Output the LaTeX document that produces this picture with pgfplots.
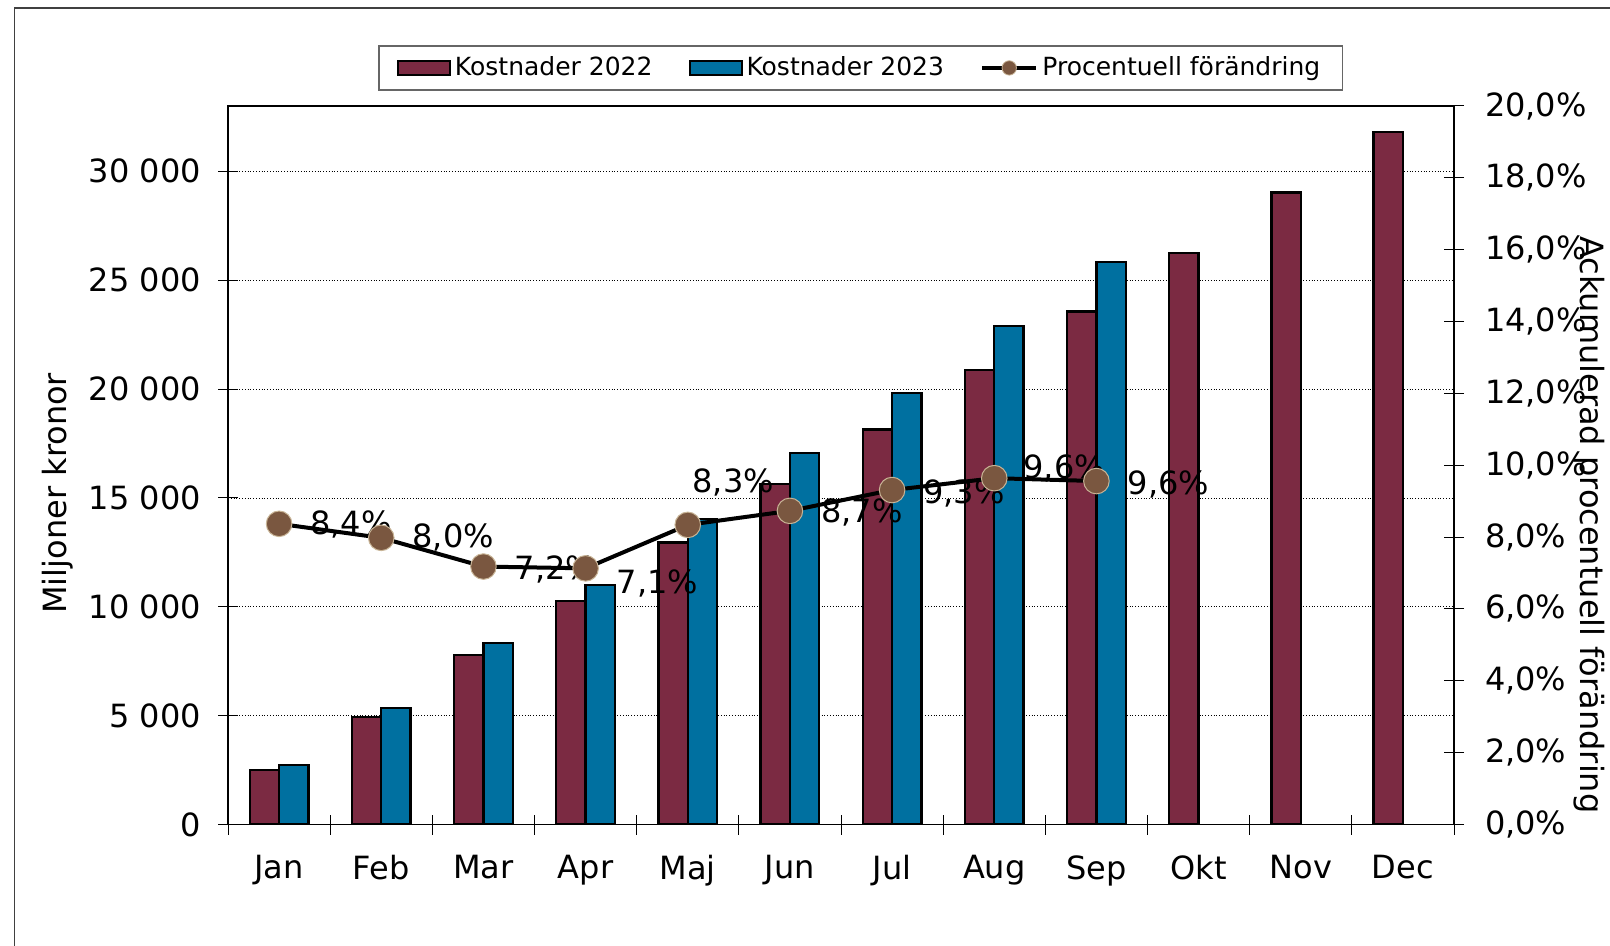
\documentclass[border=0pt]{standalone}
\usepackage{pgfplots}
\usepackage{pgfplotstable}
\pgfplotsset{compat=1.18}
\usepackage{fontspec}
\setmainfont{DejaVu Sans}
\definecolor{maroon}{HTML}{7B2A42}
\definecolor{tealblue}{HTML}{0070A0}
\definecolor{brownmark}{HTML}{7A5740}
\definecolor{tanedge}{HTML}{C8B496}

\pgfplotstableread{
x k22
0 2505
1 4926
2 7776
3 10271
4 12950
5 15650
6 18140
7 20887
8 23566
9 26250
10 29035
11 31810
}\barsA

\pgfplotstableread{
x k23
0 2720
1 5340
2 8327
3 11006
4 14030
5 17059
6 19816
7 22909
8 25836
}\barsB

\pgfplotstableread{
x p dx dy
0 8.37 36 -0.5
1 7.98 36 0
2 7.18 36 -1.7
3 7.13 36 -7.5
4 8.34 22.7 21.2
5 8.73 36 -0.8
6 9.31 36 -1.5
7 9.64 35 5
8 9.56 36 -1.7
}\pct

\begin{document}
\begin{tikzpicture}
\useasboundingbox (0pt,0pt) rectangle (805pt,-473pt);
\draw[black!75, line width=0.8pt] (7.2pt,-480pt) -- (7.2pt,-4.1pt) -- (810pt,-4.1pt);

\begin{axis}[
  at={(114pt,-412.25pt)}, anchor=south west,
  scale only axis, width=613pt, height=359.25pt,
  xmin=-0.5, xmax=11.5, ymin=0, ymax=33000,
  ybar=0pt, bar width=0.287,
  xtick={-0.5,0.5,...,11.5},
  xticklabels={Jan,Feb,Mar,Apr,Maj,Jun,Jul,Aug,Sep,Okt,Nov,Dec},
  x tick label as interval,
  ytick={0,5000,...,30000},
  scaled y ticks=false,
  ytick pos=left, xtick pos=bottom,
  tick align=center, major tick length=10pt,
  tick style={black, line width=0.5pt},
  ymajorgrids, grid style={densely dotted, black, line width=0.4pt},
  axis line style={black, line width=0.6pt},
  tick label style={font=\fontsize{16}{19}\selectfont},
  xticklabel style={yshift=-7pt},
  yticklabel style={xshift=-5pt},
  /pgf/number format/assume math mode=true,
  /pgf/number format/1000 sep={\ },
  ylabel={Miljoner kronor},
  every axis y label/.style={at={(axis description cs:-0.139,0.461)}, anchor=center, rotate=90, font=\fontsize{16}{19}\selectfont},
  legend style={at={(0.516,1.053)}, anchor=center, legend columns=3, draw=black!60, line width=0.6pt,
    font=\fontsize{12.5}{14}\selectfont,
    /tikz/every even column/.append style={column sep=16pt},
    inner xsep=9pt, inner ysep=3.5pt},
  legend cell align=left,
]
\addplot[fill=maroon, draw=black, line width=1.2pt,
  legend image code/.code={\draw[fill=maroon, draw=black, line width=1pt] (0pt,-3.5pt) rectangle (26pt,3.5pt);}]
  table[x=x,y=k22]{\barsA};
\addlegendentry{Kostnader 2022}
\addplot[fill=tealblue, draw=black, line width=1.2pt,
  legend image code/.code={\draw[fill=tealblue, draw=black, line width=1pt] (0pt,-3.5pt) rectangle (26pt,3.5pt);}]
  table[x=x,y=k23]{\barsB};
\addlegendentry{Kostnader 2023}
\addlegendimage{legend image code/.code={\draw[black, line width=2.2pt] (0pt,0pt) -- (27pt,0pt); \filldraw[fill=brownmark, draw=tanedge, line width=0.4pt] (13.5pt,0pt) circle (3.6pt);}}
\addlegendentry{Procentuell förändring}
\end{axis}

\begin{axis}[
  at={(114pt,-412.25pt)}, anchor=south west,
  scale only axis, width=613pt, height=359.25pt,
  xmin=-0.5, xmax=11.5, ymin=0, ymax=20,
  axis y line*=right, axis x line=none,
  ytick={0,2,...,20},
  tick align=center, major tick length=10pt,
  tick style={black, line width=0.5pt},
  axis line style={black, line width=0.6pt},
  tick label style={font=\fontsize{16}{19}\selectfont},
  yticklabel style={xshift=7pt},
  yticklabel={\pgfmathprintnumber[fixed,fixed zerofill,precision=1,use comma,assume math mode=true]{\tick}\%},
  ylabel={Ackumulerad procentuell förändring},
  every axis y label/.style={at={(axis description cs:1.1105,0.417)}, anchor=center, rotate=-90, font=\fontsize{16}{19}\selectfont},
  clip=false,
]
\addplot[black, line width=2pt, mark=*, mark size=6.4pt,
  mark options={fill=brownmark, draw=tanedge, line width=0.5pt},
  point meta=y,
  visualization depends on={\thisrow{dx}\as\dx},
  visualization depends on={\thisrow{dy}\as\dy},
  nodes near coords={\pgfmathprintnumber[fixed,fixed zerofill,precision=1,use comma,assume math mode=true]{\pgfplotspointmeta}\%},
  every node near coord/.style={anchor=center, xshift=\dx pt, yshift=\dy pt, font=\fontsize{16}{19}\selectfont, text=black},
] table[x=x,y=p]{\pct};
\end{axis}
\end{tikzpicture}
\end{document}
